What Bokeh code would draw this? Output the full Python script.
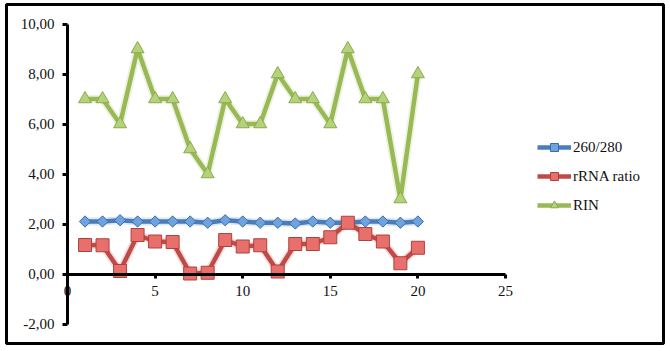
import math
from bokeh.plotting import figure
from bokeh.models import (LinearAxis, FixedTicker, CustomJSTickFormatter, Range1d,
                          Legend, LegendItem, ColumnDataSource)
from bokeh.embed import file_html
from bokeh.resources import INLINE

# ---- data ----
samples = list(range(1, 21))
ratio_260_280 = [2.10, 2.10, 2.15, 2.10, 2.10, 2.10, 2.10, 2.05, 2.15, 2.10,
                 2.05, 2.05, 2.02, 2.10, 2.05, 2.05, 2.10, 2.10, 2.05, 2.10]
rrna_ratio = [1.16, 1.15, 0.12, 1.56, 1.30, 1.28, 0.02, 0.05, 1.36, 1.10,
              1.15, 0.10, 1.20, 1.20, 1.47, 2.05, 1.60, 1.30, 0.43, 1.05]
rin = [7, 7, 6, 9, 7, 7, 5, 4, 7, 6, 6, 8, 7, 7, 6, 9, 7, 7, 3, 8]

series_names = ["260/280", "rRNA ratio", "RIN"]
x_ticks = [0, 5, 10, 15, 20, 25]
y_ticks = [-2, 0, 2, 4, 6, 8, 10]

FONT = "Liberation Serif"

p = figure(width=670, height=351, output_backend="svg", toolbar_location=None,
           x_axis_location=None, y_axis_location=None,
           x_range=Range1d(-3.482, 34.018), y_range=Range1d(-2.78, 10.78),
           min_border_left=6, min_border_right=7, min_border_top=4, min_border_bottom=8)
p.grid.visible = False
p.outline_line_color = "black"
p.outline_line_width = 3
p.background_fill_color = "white"
p.border_fill_color = "white"

yax = LinearAxis(fixed_location=0, ticker=FixedTicker(ticks=y_ticks), bounds=(-2, 10))
yax.formatter = CustomJSTickFormatter(code="return tick.toFixed(2).replace('.', ',');")
xax = LinearAxis(fixed_location=0, ticker=FixedTicker(ticks=x_ticks), bounds=(0, 25))
for ax in (xax, yax):
    ax.axis_line_width = 3
    ax.axis_line_color = "black"
    ax.major_tick_line_width = 3
    ax.major_tick_line_color = "black"
    ax.major_tick_in = 0
    ax.major_tick_out = 5
    ax.minor_tick_line_color = None
    ax.major_label_text_font = FONT
    ax.major_label_text_font_size = "15px"
    ax.major_label_text_color = "#111111"
yax.major_label_standoff = 8
xax.major_tick_out = 4
xax.major_label_standoff = 8
p.add_layout(yax, "left")
p.add_layout(xax, "below")

styles = [
    dict(y=ratio_260_280, line="#4A7EBB", fill="#6FA3DF", edge="#3C6DAA",
         marker="square", size=8, angle=math.pi / 4),
    dict(y=rrna_ratio, line="#BE4B48", fill="#E8706C", edge="#B0403C",
         marker="square", size=13, angle=0),
    dict(y=rin, line="#98B954", fill="#B4D27C", edge="#8AAA4A",
         marker="triangle", size=13, angle=0),
]

items = []
for name, st in zip(series_names, styles):
    src = ColumnDataSource(dict(x=samples, y=st["y"]))
    glow = p.line("x", "y", source=src, line_color=st["line"], line_width=8, line_alpha=0.18)
    ln = p.line("x", "y", source=src, line_color=st["line"], line_width=4.5,
                line_join="round")
    sc = p.scatter("x", "y", source=src, marker=st["marker"], size=st["size"],
                   angle=st["angle"], fill_color=st["fill"], line_color=st["edge"],
                   line_width=1)
    items.append(LegendItem(label=name, renderers=[ln, sc]))

legend = Legend(items=items, location=(531, 128), orientation="vertical",
                label_text_font=FONT, label_text_font_size="15px",
                label_text_color="#111111",
                glyph_width=34, glyph_height=20, label_height=20, label_standoff=2,
                spacing=9, padding=0, margin=0,
                border_line_alpha=0, background_fill_alpha=0)
p.add_layout(legend, "center")

open("out.html", "w").write(file_html(p, INLINE))
